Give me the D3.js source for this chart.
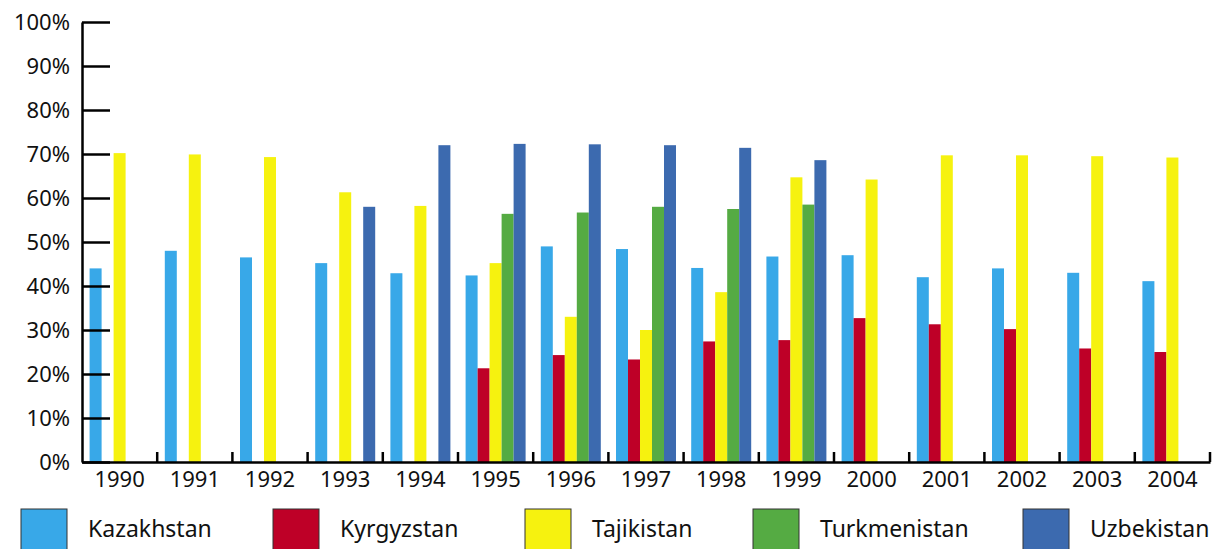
<!DOCTYPE html>
<html>
<head>
<meta charset="utf-8">
<script src="https://cdn.jsdelivr.net/npm/d3@7"></script>
<style>
  body { margin: 0; background: #fff; }
  text { font-family: "Noto Sans", sans-serif; fill: #111; }
</style>
</head>
<body>
<svg id="chart"></svg>
<script>
// data (percent)
var years = ["1990","1991","1992","1993","1994","1995","1996","1997","1998","1999","2000","2001","2002","2003","2004"];
var countries = ["Kazakhstan","Kyrgyzstan","Tajikistan","Turkmenistan","Uzbekistan"];
var kazakhstan   = [44.0, 48.0, 46.5, 45.2, 42.9, 42.4, 49.0, 48.4, 44.1, 46.7, 47.0, 42.0, 44.0, 43.0, 41.1];
var kyrgyzstan   = [null, null, null, null, null, 21.3, 24.3, 23.3, 27.4, 27.7, 32.7, 31.3, 30.2, 25.8, 25.0];
var tajikistan   = [70.2, 69.9, 69.3, 61.3, 58.2, 45.2, 33.0, 30.0, 38.6, 64.7, 64.2, 69.7, 69.7, 69.5, 69.2];
var turkmenistan = [null, null, null, null, null, 56.4, 56.7, 58.0, 57.5, 58.5, null, null, null, null, null];
var uzbekistan   = [null, null, null, 58.0, 72.0, 72.3, 72.2, 72.0, 71.4, 68.6, null, null, null, null, null];
var yTicks = [0, 10, 20, 30, 40, 50, 60, 70, 80, 90, 100];

var series = [kazakhstan, kyrgyzstan, tajikistan, turkmenistan, uzbekistan];
var colors = ["#38a8e8", "#be0027", "#f6f20f", "#55ab43", "#3c6aaf"];
var legendX = [21, 273, 525, 753, 1023];

var width = 1227, height = 549;
var plotLeft = 82, plotRight = 1210, plotTop = 22, plotBottom = 462;

var svg = d3.select("#chart").attr("width", width).attr("height", height);

var x0 = d3.scaleBand().domain(years).range([plotLeft, plotRight]).padding(0);
var x1 = d3.scaleBand().domain(countries).range([7.6, 67.6]).padding(0);
var y = d3.scaleLinear().domain([0, 100]).range([plotBottom, plotTop]);

// bars
var cells = [];
years.forEach(function(yr, i) {
  countries.forEach(function(c, j) {
    if (series[j][i] != null) cells.push({year: yr, country: c, value: series[j][i], color: colors[j]});
  });
});

svg.append("g").selectAll("rect")
  .data(cells)
  .enter()
  .append("rect")
  .attr("x", function(d) { return x0(d.year) + x1(d.country); })
  .attr("y", function(d) { return y(d.value); })
  .attr("width", x1.bandwidth())
  .attr("height", function(d) { return y(0) - y(d.value); })
  .attr("fill", function(d) { return d.color; });

// y axis, ticks pointing into the plot
var yAxis = svg.append("g")
  .attr("transform", "translate(" + plotLeft + ",0)")
  .call(d3.axisLeft(y).tickValues(yTicks).tickSizeInner(-28).tickSizeOuter(0).tickPadding(12)
    .tickFormat(function(d) { return d + "%"; }));
yAxis.select(".domain").attr("stroke", "#000").attr("stroke-width", 2.5);
yAxis.selectAll(".tick line").attr("stroke", "#000").attr("stroke-width", 2.5);
yAxis.selectAll(".tick text").style("font-size", "22px").attr("fill", "#111");

// x axis labels
var xAxis = svg.append("g")
  .attr("transform", "translate(0," + plotBottom + ")")
  .call(d3.axisBottom(x0).tickSize(0).tickPadding(9));
xAxis.select(".domain").attr("stroke", "#000").attr("stroke-width", 2.5);
xAxis.selectAll(".tick text").style("font-size", "22px").attr("fill", "#111");

// separator ticks between years
svg.append("g").selectAll("line")
  .data(years)
  .enter()
  .append("line")
  .attr("x1", function(d) { return x0(d) + x0.bandwidth(); })
  .attr("x2", function(d) { return x0(d) + x0.bandwidth(); })
  .attr("y1", plotBottom)
  .attr("y2", plotBottom - 10)
  .attr("stroke", "#000")
  .attr("stroke-width", 2.5);

// legend
var legend = svg.append("g").selectAll("g")
  .data(countries)
  .enter()
  .append("g")
  .attr("transform", function(d, i) { return "translate(" + legendX[i] + ",509)"; });

legend.append("rect")
  .attr("width", 46)
  .attr("height", 46)
  .attr("fill", function(d, i) { return colors[i]; })
  .attr("stroke", "#333")
  .attr("stroke-width", 1);

legend.append("text")
  .attr("x", 67)
  .attr("y", 28)
  .style("font-size", "23px")
  .text(function(d) { return d; });
</script>
</body>
</html>
